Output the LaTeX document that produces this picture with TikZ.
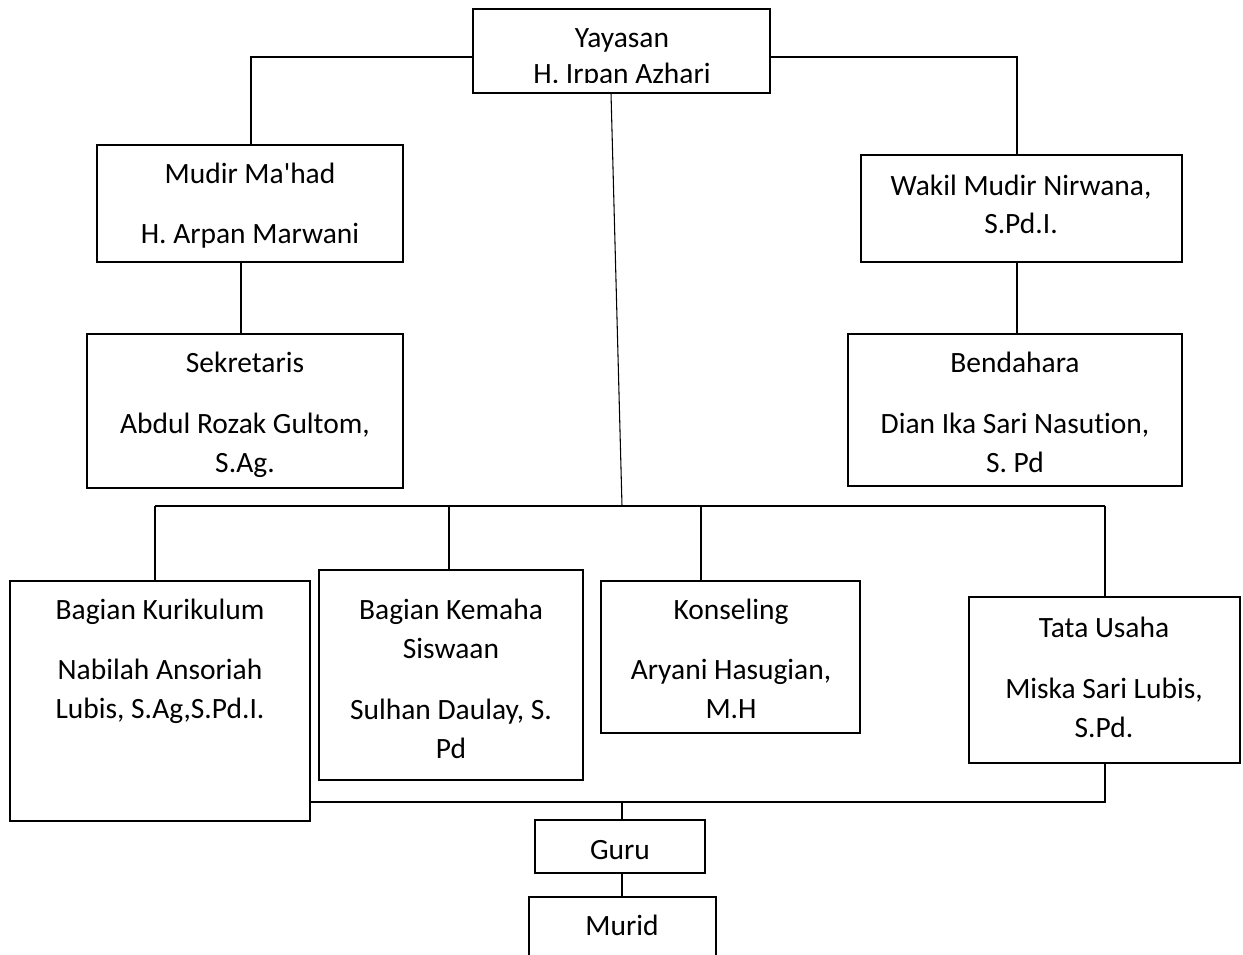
\documentclass[tikz,border=0pt]{standalone}
\usepackage{fontspec}
\setmainfont{Carlito}[Ligatures={TeXOff,CommonOff}]
\begin{document}
\begin{tikzpicture}[x=0.75pt,y=-0.75pt,
  box/.style={draw=black,line width=1.9pt,fill=white,inner sep=0pt,outer sep=0pt},
  txt/.style={anchor=base,inner sep=0pt,font=\fontsize{22.1}{26}\selectfont},
  conn/.style={draw=black,line width=0.8pt},
  thick conn/.style={draw=black,line width=1.6pt}]
\useasboundingbox (0,0) rectangle (1243,955);
\fill[white] (0,0) rectangle (1243,955);
\newcommand{\bx}[5]{\node[box,minimum width={(#4-#2)*0.75pt},minimum height={(#5-#3)*0.75pt}] (#1) at ({(#2+#4)/2},{(#3+#5)/2}) {};}
% boxes
\bx{yay}{473}{9}{770}{93}
\bx{mudir}{97}{145}{403}{262}
\bx{sek}{87}{334}{403}{488}
\bx{wakil}{861}{155}{1182}{262}
\bx{bend}{848}{334}{1182}{486}
\bx{kur}{10}{581}{310}{821}
\bx{kem}{319}{570}{583}{780}
\bx{kons}{601}{581}{860}{733}
\bx{tata}{969}{597}{1240}{763}
\bx{guru}{535}{820}{705}{873}
\bx{murid}{529}{897}{716}{990}
% coordinates
\coordinate (yl) at (251,57);
\coordinate (yr) at (1017,57);
\coordinate (hub) at (622,506);
\coordinate (hl) at (155,506);
\coordinate (hr) at (1105,506);
\coordinate (bl) at (310,802);
\coordinate (bm) at (622,802);
\coordinate (br) at (1105,802);
% connectors
\draw[conn] (yay.west |- yl) -- (yl) -- (yl |- mudir.north);
\draw[conn] (yay.east |- yr) -- (yr) -- (yr |- wakil.north);
\draw[conn] (mudir.south -| 241,0) -- (sek.north -| 241,0);
\draw[conn] (wakil.south -| 1017,0) -- (bend.north -| 1017,0);
\draw[conn] (yay.south -| 611,0) -- (hub);
\draw[conn] (hl) -- (hr);
\draw[conn] (hl) -- (hl |- kur.north);
\draw[conn] (hl -| 449,0) -- (kem.north -| 449,0);
\draw[conn] (hl -| 701,0) -- (kons.north -| 701,0);
\draw[conn] (hr) -- (hr |- tata.north);
\draw[conn] (kur.east |- bl) -- (br) -- (tata.south -| br);
\draw[conn] (bm) -- (guru.north -| bm);
\draw[thick conn] (guru.south -| bm) -- (murid.north -| bm);
% texts
\node[txt] (t1) at (622,48) {Yayasan};
\begin{scope}
\clip (473,9) rectangle (770,83);
\node[txt] (t2) at (622,83.5) {H. Irpan Azhari};
\end{scope}
\node[txt] (t3) at (250,184) {Mudir Ma'had};
\node[txt] (t4) at (250,244) {H. Arpan Marwani};
\node[txt] (t5) at (245,373) {Sekretaris};
\node[txt] (t6) at (245,434) {Abdul Rozak Gultom,};
\node[txt] (t7) at (245,473) {S.Ag.};
\node[txt] (t8) at (1021,196) {Wakil Mudir Nirwana,};
\node[txt] (t9) at (1021,234) {S.Pd.I.};
\node[txt] (t10) at (1015,373) {Bendahara};
\node[txt] (t11) at (1015,434) {Dian Ika Sari Nasution,};
\node[txt] (t12) at (1015,473) {S. Pd};
\node[txt] (t13) at (160,619) {Bagian Kurikulum};
\node[txt] (t14) at (160,679) {Nabilah Ansoriah};
\node[txt] (t15) at (160,718) {Lubis, S.Ag,S.Pd.I.};
\node[txt] (t16) at (451,619) {Bagian Kemaha};
\node[txt] (t17) at (451,658) {Siswaan};
\node[txt] (t18) at (451,719) {Sulhan Daulay, S.};
\node[txt] (t19) at (451,758) {Pd};
\node[txt] (t20) at (731,619) {Konseling};
\node[txt] (t21) at (731,679) {Aryani Hasugian,};
\node[txt] (t22) at (731,718) {M.H};
\node[txt] (t23) at (1104,637) {Tata Usaha};
\node[txt] (t24) at (1104,698) {Miska Sari Lubis,};
\node[txt] (t25) at (1104,737) {S.Pd.};
\node[txt] (t26) at (620,859) {Guru};
\node[txt] (t27) at (622,935) {Murid};
\end{tikzpicture}
\end{document}
